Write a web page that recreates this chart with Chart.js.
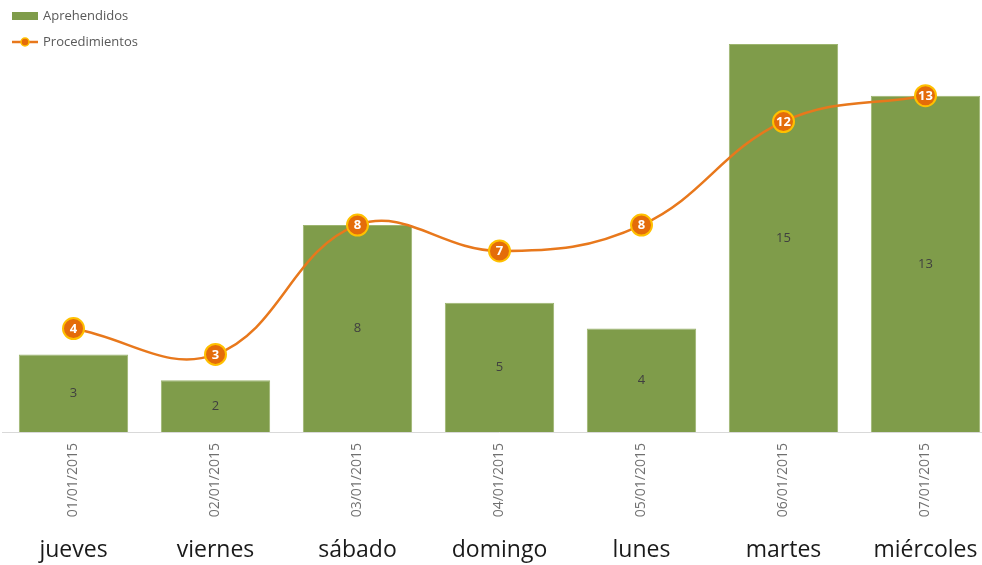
<!DOCTYPE html>
<html>
<head>
<meta charset="utf-8">
<script src="https://cdn.jsdelivr.net/npm/chart.js@4"></script>
<style>
  html, body { margin: 0; padding: 0; background: #fff; overflow: hidden; }
  #wrap { position: relative; width: 1019px; height: 565px; margin-left: -10px; }
</style>
</head>
<body>
<div id="wrap"><canvas id="chart"></canvas></div>
<script>
// Aprehendidos (bars) vs Procedimientos (line), one week of January 2015
const dates = ['01/01/2015', '02/01/2015', '03/01/2015', '04/01/2015', '05/01/2015', '06/01/2015', '07/01/2015'];
const days = ['jueves', 'viernes', 'sábado', 'domingo', 'lunes', 'martes', 'miércoles'];
const aprehendidos = [3, 2, 8, 5, 4, 15, 13];
const procedimientos = [4, 3, 8, 7, 8, 12, 13];

const GREEN = '#7f9c4a';
const ORANGE = '#e8781c';
const ORANGE_DOT = '#e46c0a';
const YELLOW = '#ffc000';
const FONT = '"Open Sans", "DejaVu Sans", sans-serif';

// value labels inside bars and inside line markers
const valueLabels = {
  id: 'valueLabels',
  afterDatasetsDraw(chart) {
    const ctx = chart.ctx;
    ctx.save();
    ctx.textAlign = 'center';
    ctx.textBaseline = 'middle';
    const bars = chart.getDatasetMeta(0).data;
    ctx.font = '13px ' + FONT;
    ctx.fillStyle = '#404040';
    bars.forEach((b, i) => {
      ctx.fillText(String(aprehendidos[i]), b.x, (b.y + b.base) / 2);
    });
    const pts = chart.getDatasetMeta(1).data;
    ctx.font = 'bold 13px ' + FONT;
    ctx.fillStyle = '#fff';
    pts.forEach((p, i) => {
      ctx.fillText(String(procedimientos[i]), p.x, p.y + 0.5);
    });
    ctx.restore();
  }
};

// two-row legend in the top-left corner (canvas is shifted 10px left)
const cornerLegend = {
  id: 'cornerLegend',
  afterDraw(chart) {
    const ctx = chart.ctx;
    const ox = 10;
    ctx.save();
    ctx.font = '13px ' + FONT;
    ctx.textBaseline = 'middle';
    ctx.textAlign = 'left';
    const ds = chart.data.datasets;
    // bar entry
    ctx.fillStyle = ds[0].backgroundColor;
    ctx.fillRect(ox + 12, 12, 26, 8);
    ctx.fillStyle = '#595959';
    ctx.fillText(ds[0].label, ox + 43, 16);
    // line entry
    ctx.strokeStyle = ds[1].borderColor;
    ctx.lineWidth = 2.5;
    ctx.beginPath();
    ctx.moveTo(ox + 12, 42);
    ctx.lineTo(ox + 38, 42);
    ctx.stroke();
    ctx.beginPath();
    ctx.arc(ox + 25, 42, 4, 0, Math.PI * 2);
    ctx.fillStyle = ORANGE_DOT;
    ctx.fill();
    ctx.lineWidth = 1.5;
    ctx.strokeStyle = YELLOW;
    ctx.stroke();
    ctx.fillStyle = '#595959';
    ctx.fillText(ds[1].label, ox + 43, 42);
    ctx.restore();
  }
};

new Chart(document.getElementById('chart'), {
  data: {
    labels: dates,
    datasets: [
      {
        type: 'bar',
        label: 'Aprehendidos',
        data: aprehendidos,
        backgroundColor: GREEN,
        borderColor: '#9db56f',
        borderWidth: 1,
        barPercentage: 0.77,
        categoryPercentage: 1,
        order: 2
      },
      {
        type: 'line',
        label: 'Procedimientos',
        data: procedimientos,
        borderColor: ORANGE,
        borderWidth: 2.5,
        tension: 0.4,
        pointRadius: 10.5,
        pointHoverRadius: 10.5,
        pointBackgroundColor: ORANGE_DOT,
        pointBorderColor: YELLOW,
        pointBorderWidth: 2,
        order: 1
      }
    ]
  },
  options: {
    responsive: true,
    maintainAspectRatio: false,
    animation: false,
    layout: { padding: { top: 44, left: 0, right: 0, bottom: 0 } },
    plugins: {
      legend: { display: false },
      tooltip: { enabled: false }
    },
    scales: {
      x: {
        position: 'bottom',
        offset: true,
        afterFit(scale) { scale.height = 90; },
        grid: { display: true, drawOnChartArea: false, drawTicks: false },
        border: { display: true, color: '#d9d9d9', width: 1 },
        ticks: {
          minRotation: 90,
          maxRotation: 90,
          padding: 11,
          color: '#707070',
          font: { family: FONT, size: 14 }
        }
      },
      x2: {
        type: 'category',
        position: 'bottom',
        labels: days,
        offset: true,
        afterFit(scale) { scale.height = 43; },
        grid: { display: false, drawTicks: false },
        border: { display: false },
        ticks: {
          maxRotation: 0,
          padding: 15,
          color: '#1a1a1a',
          font: { family: FONT, size: 23 }
        }
      },
      y: {
        display: false,
        min: 0,
        max: 15
      }
    }
  },
  plugins: [valueLabels, cornerLegend]
});
</script>
</body>
</html>
